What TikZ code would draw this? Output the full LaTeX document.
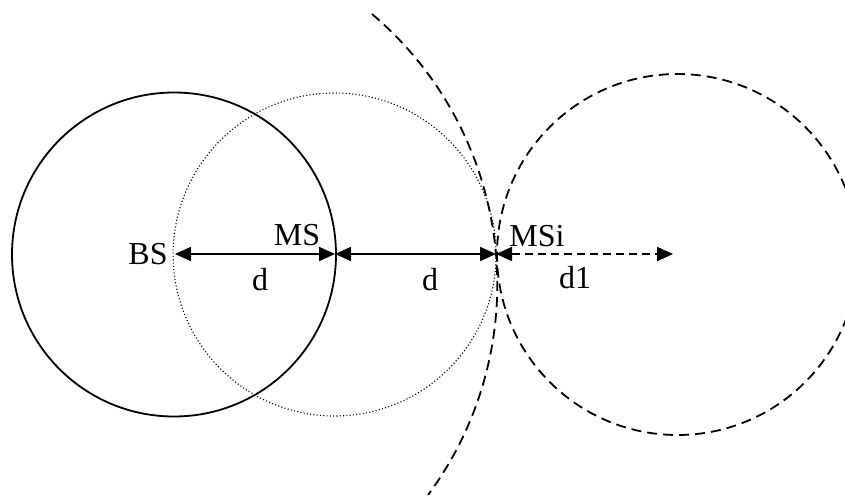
\documentclass[tikz,border=0pt]{standalone}
\usepackage{fontspec}
\setmainfont{Liberation Serif}
\usetikzlibrary{arrows.meta}
\begin{document}
\begin{tikzpicture}[x=1pt,y=-1pt,
  solidc/.style={line width=1.8pt},
  dotc/.style={line width=1.1pt,dash pattern=on 1.1pt off 2.2pt},
  dashc/.style={line width=1.8pt,dash pattern=on 10pt off 6pt},
  dim/.style={line width=1.8pt,{Triangle[length=16pt,width=14pt]}-{Triangle[length=16pt,width=14pt]}},
  dimdash/.style={dim,dash pattern=on 8pt off 5pt},
  lbl/.style={inner sep=0pt,font=\fontsize{32}{36}\selectfont}]
\useasboundingbox (0,0) rectangle (845,495);
\clip (0,0) rectangle (845,495);
% circles
\draw[solidc] (174,254.5) circle[radius=162];
\draw[dotc] (334.6,254.5) circle[radius=161.5];
\draw[dashc] (677.5,254.5) circle[radius=180.5];
\draw[dashc] (142.7,284.5) ++(-49.7:354.6) arc[start angle=-49.7,end angle=36.4,radius=354.6];
% points
\coordinate (BS) at (175,254);
\coordinate (MS) at (335,254);
\coordinate (MSi) at (496,254);
\coordinate (E) at (673,254);
% arrows
\draw[dim] (BS) -- (MS);
\draw[dim] (MS) -- (MSi);
\draw[dimdash] (MSi) -- (E);
% labels
\node[lbl] (tBS) at (148,254.5) {BS};
\node[lbl] (tMS) at (297,235) {MS};
\node[lbl] (tMSi) at (537,236) {MSi};
\node[lbl] (td1) at (260,280) {d};
\node[lbl] (td2) at (430,280) {d};
\node[lbl] (td3) at (575,278) {d1};
\end{tikzpicture}
\end{document}
